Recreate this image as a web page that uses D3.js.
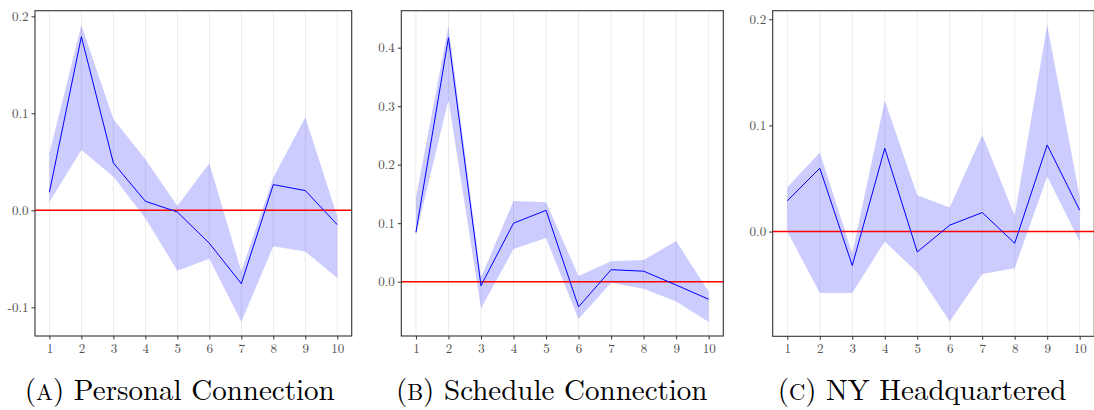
<!DOCTYPE html>
<html>
<head>
<meta charset="utf-8">
<script src="https://cdn.jsdelivr.net/npm/d3@7"></script>
<style>
  html, body { margin: 0; padding: 0; background: #fff; }
  svg { display: block; }
</style>
</head>
<body>
<svg id="chart" width="1094" height="410"></svg>
<script>
const horizons = [1, 2, 3, 4, 5, 6, 7, 8, 9, 10];

const personalEst = [0.0186, 0.179, 0.0488, 0.0093, -0.0017, -0.034, -0.0756, 0.0265, 0.0203, -0.0148];
const personalHi  = [0.0588, 0.191, 0.0938, 0.0526, 0.0045, 0.0485, -0.063, 0.0337, 0.0959, -0.0065];
const personalLo  = [0.0086, 0.0622, 0.0347, -0.0082, -0.0622, -0.050, -0.115, -0.037, -0.0426, -0.0698];

const scheduleEst = [0.0843, 0.417, -0.0068, 0.100, 0.122, -0.043, 0.0205, 0.018, -0.0057, -0.030];
const scheduleHi  = [0.1436, 0.437, 0.0074, 0.138, 0.1356, 0.0097, 0.0348, 0.037, 0.0695, -0.017];
const scheduleLo  = [0.080, 0.3105, -0.0456, 0.0558, 0.0746, -0.0638, -0.0017, -0.012, -0.034, -0.069];

const nyEst = [0.0289, 0.0597, -0.032, 0.0785, -0.0192, 0.006, 0.0179, -0.011, 0.0816, 0.0201];
const nyHi  = [0.0418, 0.0744, -0.0204, 0.1234, 0.0342, 0.0226, 0.091, 0.0148, 0.1947, 0.033];
const nyLo  = [0.0, -0.0578, -0.0578, -0.0094, -0.0386, -0.0848, -0.0399, -0.0345, 0.0518, -0.0094];

const personalTicks = [-0.1, 0.0, 0.1, 0.2];
const scheduleTicks = [0.0, 0.1, 0.2, 0.3, 0.4];
const nyTicks = [0.0, 0.1, 0.2];

const captionLetters = ["a", "b", "c"];
const captionTitles = ["Personal Connection", "Schedule Connection", "NY Headquartered"];

const FONT = "'Latin Modern Roman', 'CMU Serif', 'Liberation Serif', serif";

const panels = [
  { est: personalEst, hi: personalHi, lo: personalLo, ticks: personalTicks,
    left: 35, right: 351.7, top: 10.7, bottom: 336, yDomain: [-0.1296, 0.2058], capCx: 179.7 },
  { est: scheduleEst, hi: scheduleHi, lo: scheduleLo, ticks: scheduleTicks,
    left: 401.3, right: 723.3, top: 10.7, bottom: 336, yDomain: [-0.0928, 0.4632], capCx: 551.7 },
  { est: nyEst, hi: nyHi, lo: nyLo, ticks: nyTicks,
    left: 772.7, right: 1094.3, top: 10.7, bottom: 336.3, yDomain: [-0.0987, 0.2081], capCx: 922 }
];

const svg = d3.select("#chart");

panels.forEach((p, i) => {
  const x = d3.scaleLinear().domain([0.55, 10.45]).range([p.left, p.right]);
  const y = d3.scaleLinear().domain(p.yDomain).range([p.bottom, p.top]);
  const g = svg.append("g");

  g.selectAll("line.grid").data(horizons).enter().append("line")
    .attr("class", "grid")
    .attr("x1", d => x(d)).attr("x2", d => x(d))
    .attr("y1", p.top).attr("y2", p.bottom)
    .attr("stroke", "#ebebeb").attr("stroke-width", 1);

  const rows = horizons.map((h, k) => ({ h, est: p.est[k], lo: p.lo[k], hi: p.hi[k] }));

  g.append("path").datum(rows)
    .attr("d", d3.area().x(d => x(d.h)).y0(d => y(d.lo)).y1(d => y(d.hi)))
    .attr("fill", "#0000ff").attr("fill-opacity", 0.2);

  g.append("line")
    .attr("x1", p.left).attr("x2", p.right)
    .attr("y1", y(0)).attr("y2", y(0))
    .attr("stroke", "#ff0000").attr("stroke-width", 1.4);

  g.append("path").datum(rows)
    .attr("d", d3.line().x(d => x(d.h)).y(d => y(d.est)))
    .attr("fill", "none").attr("stroke", "#0000ff").attr("stroke-width", 1);

  g.append("rect")
    .attr("x", p.left).attr("y", p.top)
    .attr("width", p.right - p.left).attr("height", p.bottom - p.top)
    .attr("fill", "none").attr("stroke", "#333333").attr("stroke-width", 1.1);

  const xAxis = d3.axisBottom(x).tickValues(horizons).tickSize(3.5).tickPadding(4)
    .tickFormat(d3.format("d"));
  const gx = g.append("g").attr("transform", `translate(0,${p.bottom})`).call(xAxis);
  gx.attr("font-family", FONT).attr("font-size", 13);
  gx.select(".domain").remove();
  gx.selectAll(".tick line").attr("stroke", "#333333");
  gx.selectAll(".tick text").attr("fill", "#4d4d4d");

  const yAxis = d3.axisLeft(y).tickValues(p.ticks).tickSize(3.5).tickPadding(3)
    .tickFormat(d => d3.format(".1f")(d).replace("\u2212", "-"));
  const gy = g.append("g").attr("transform", `translate(${p.left},0)`).call(yAxis);
  gy.attr("font-family", FONT).attr("font-size", 13);
  gy.select(".domain").remove();
  gy.selectAll(".tick line").attr("stroke", "#333333");
  gy.selectAll(".tick text").attr("fill", "#4d4d4d");

  const cap = svg.append("text")
    .attr("x", p.capCx).attr("y", 400)
    .attr("text-anchor", "middle")
    .attr("font-family", FONT)
    .attr("font-size", 29).attr("fill", "#000");
  cap.append("tspan").text("(");
  cap.append("tspan").attr("font-size", 22.5).text(captionLetters[i].toUpperCase());
  cap.append("tspan").text(") " + captionTitles[i]);
});
</script>
</body>
</html>
